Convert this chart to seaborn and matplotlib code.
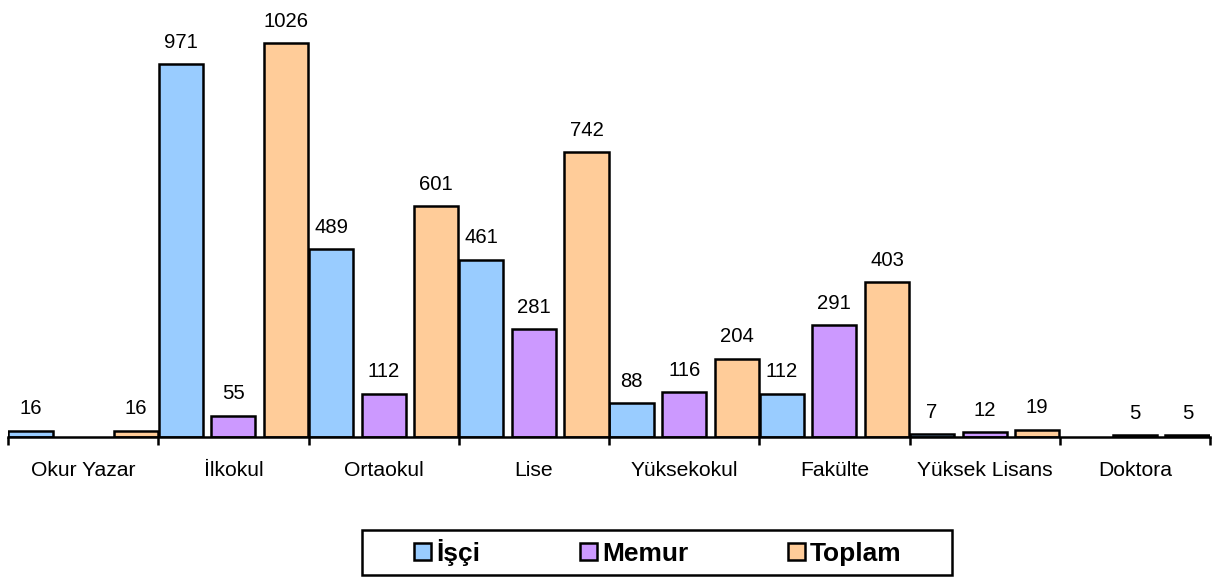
import matplotlib
matplotlib.use("Agg")
import matplotlib.pyplot as plt
import seaborn as sns
import pandas as pd
import numpy as np
from matplotlib.patches import Patch, Rectangle

categories = ["Okur Yazar", "İlkokul", "Ortaokul", "Lise", "Yüksekokul",
              "Fakülte", "Yüksek Lisans", "Doktora"]
isci = [16, 971, 489, 461, 88, 112, 7, 0]
memur = [0, 55, 112, 281, 116, 291, 12, 5]
toplam = [16, 1026, 601, 742, 204, 403, 19, 5]
series_names = ["İşçi", "Memur", "Toplam"]
colors = ["#99CCFF", "#CC99FF", "#FFCC99"]

sns.set_style("white")
plt.rcParams["font.family"] = ["Liberation Sans", "DejaVu Sans"]
plt.rcParams["text.color"] = "black"
plt.rcParams["xtick.color"] = "black"
plt.rcParams["xtick.labelcolor"] = "black"

rows = []
for name, vals in zip(series_names, [isci, memur, toplam]):
    for c, v in zip(categories, vals):
        rows.append({"cat": c, "series": name, "value": v})
df = pd.DataFrame(rows)

fig = plt.figure(figsize=(12.16, 5.77), dpi=100)
ax = fig.add_axes([8 / 1216, 1 - 437 / 577, (1210 - 8) / 1216, 437 / 577])

lw = 1.8
sns.barplot(data=df, x="cat", y="value", hue="series", order=categories,
            hue_order=series_names, palette=colors, width=1.05, gap=0.16,
            edgecolor="black", linewidth=lw, saturation=1, ax=ax, legend=False)

for cont, vals in zip(ax.containers, [isci, memur, toplam]):
    for p, v in zip(cont.patches, vals):
        if v == 0:
            p.set_visible(False)
    labels = [str(v) if v != 0 else "" for v in vals]
    ax.bar_label(cont, labels=labels, padding=9, fontsize=14.6, color="black")

ax.set_xlim(-0.5, len(categories) - 0.5)
ax.set_ylim(0, 1138)
ax.set_xlabel("")
ax.set_ylabel("")
ax.set_yticks([])
for s in ["left", "right", "top"]:
    ax.spines[s].set_visible(False)
ax.spines["bottom"].set_linewidth(lw)
ax.spines["bottom"].set_color("black")

ax.set_xticks(range(len(categories)))
ax.set_xticklabels(categories, fontsize=15.2, color="black")
ax.set_xticks(np.arange(-0.5, len(categories), 1.0), minor=True)
ax.tick_params(axis="x", which="major", length=0, pad=17)
ax.tick_params(axis="x", which="minor", length=6, width=lw, color="black",
               direction="out", bottom=True)

# legend box
fig.patches.append(Rectangle((362 / 1216, 1 - 575 / 577), (952 - 362) / 1216,
                             (575 - 530) / 577, transform=fig.transFigure,
                             facecolor="white", edgecolor="black", linewidth=lw,
                             zorder=5))
handles = [Patch(facecolor=c, edgecolor="black", linewidth=lw) for c in colors]
leg = fig.legend(handles, series_names, loc="center",
                 bbox_to_anchor=(658 / 1216, 1 - 552.5 / 577), ncol=3,
                 frameon=False, prop={"size": 19, "weight": "bold"},
                 handlelength=0.62, handleheight=0.62, handletextpad=0.2,
                 columnspacing=3.8, borderpad=0.2)
for t in leg.get_texts():
    t.set_color("black")
leg.set_zorder(6)

fig.savefig("out.png", dpi=100, facecolor="white")
